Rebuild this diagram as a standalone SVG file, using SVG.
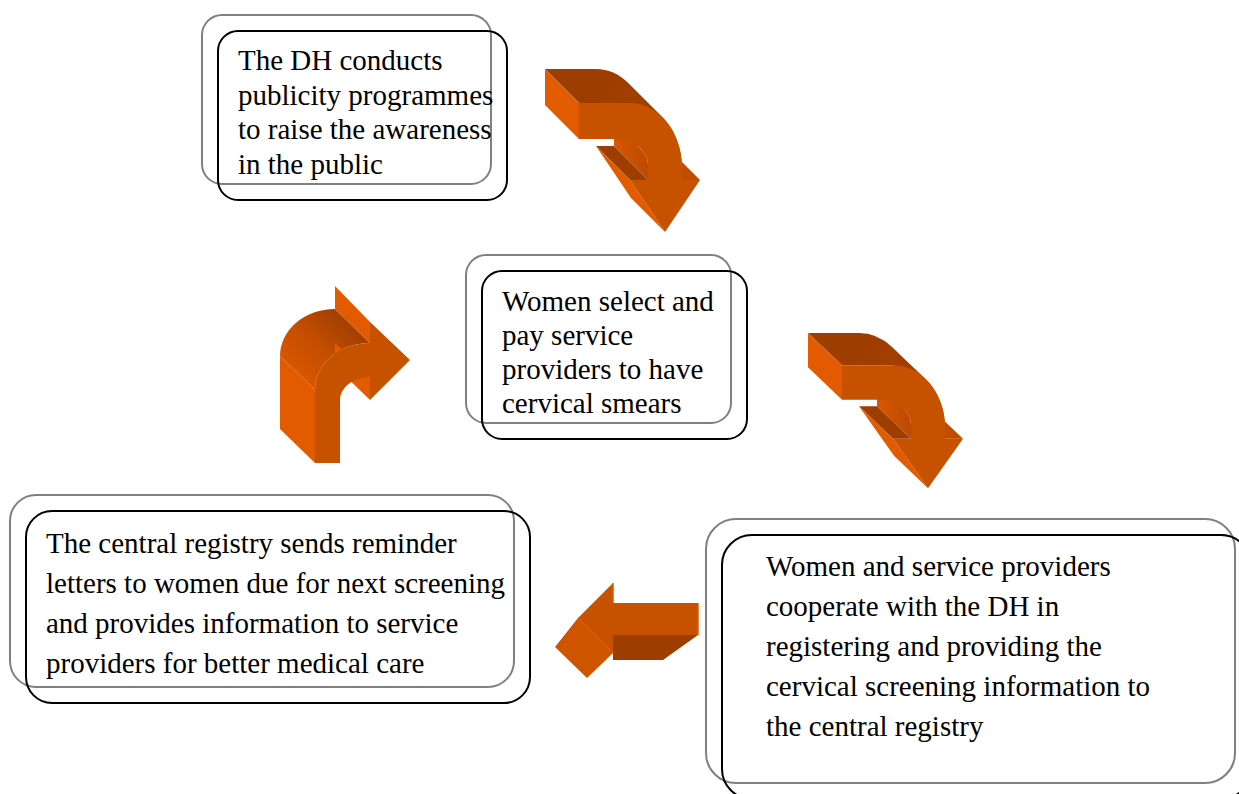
<svg xmlns="http://www.w3.org/2000/svg" width="1239" height="794" viewBox="0 0 1239 794">
<defs>
<style>
.g{fill:none;stroke:#808080;stroke-width:2}
.b{fill:none;stroke:#000;stroke-width:2}
.t{font-family:"Liberation Serif","Times New Roman",serif;font-size:29px;fill:#000}
.L{fill:#E25B00}
.M{fill:#C65200}
.D{fill:#9E3D00}
.P{fill:#CE5400}
</style>
<linearGradient id="topG" gradientUnits="userSpaceOnUse" x1="600" y1="80" x2="690" y2="160">
<stop offset="0" stop-color="#9E3D00"/>
<stop offset="0.7" stop-color="#A64000"/>
<stop offset="1" stop-color="#C04C00"/>
</linearGradient>
<linearGradient id="innerG" gradientUnits="userSpaceOnUse" x1="614" y1="150" x2="648" y2="150">
<stop offset="0" stop-color="#D85800"/>
<stop offset="1" stop-color="#BC4A00"/>
</linearGradient>
<linearGradient id="curveG" gradientUnits="userSpaceOnUse" x1="290" y1="385" x2="355" y2="315">
<stop offset="0" stop-color="#E05A00"/>
<stop offset="0.5" stop-color="#C44E00"/>
<stop offset="1" stop-color="#9A3B00"/>
</linearGradient>
</defs>
<rect width="1239" height="794" fill="#fff"/>

<g id="connectors">
  <g id="arrow1">
    <path fill="url(#topG)" d="M545,69 L596,69 A52,65 0 0 1 628.5,83.3 L662.5,117.3 A52,65 0 0 1 682,168 L682,162 L700,180 L682,180 L630,103 L579,103 Z"/>
    <path class="L" d="M545,69 L579,103 L579,139 L545,105 Z"/>
    <path fill="url(#innerG)" d="M606.9,114.9 A33,26 0 0 1 614,131 L614,146 L648,180 L648,165 A33,26 0 0 0 640.9,148.9 Z"/>
    <path class="D" d="M596,146 L614,146 L648,180 L630,180 Z"/>
    <path class="L" d="M596,146 L631,198 L665,232 L630,180 Z"/>
    <path class="M" d="M579,103 L630,103 A52,65 0 0 1 682,168 L682,180 L700,180 L665,232 L630,180 L648,180 L648,165 A33,26 0 0 0 615,139 L579,139 Z"/>
  </g>
  <g id="arrow3" transform="translate(808,333) scale(1,0.952) translate(-545,-69)">
    <path fill="url(#topG)" d="M545,69 L596,69 A52,65 0 0 1 628.5,83.3 L662.5,117.3 A52,65 0 0 1 682,168 L682,162 L700,180 L682,180 L630,103 L579,103 Z"/>
    <path class="L" d="M545,69 L579,103 L579,139 L545,105 Z"/>
    <path fill="url(#innerG)" d="M606.9,114.9 A33,26 0 0 1 614,131 L614,146 L648,180 L648,165 A33,26 0 0 0 640.9,148.9 Z"/>
    <path class="D" d="M596,146 L614,146 L648,180 L630,180 Z"/>
    <path class="L" d="M596,146 L631,198 L665,232 L630,180 Z"/>
    <path class="M" d="M579,103 L630,103 A52,65 0 0 1 682,168 L682,180 L700,180 L665,232 L630,180 L648,180 L648,165 A33,26 0 0 0 615,139 L579,139 Z"/>
  </g>
  <g id="arrow2">
    <path class="L" d="M280,356 L280,429 L315,463 L315,390 Z"/>
    <path fill="url(#curveG)" d="M280,356 A55,47 0 0 1 335,309 L370,343 A55,47 0 0 0 315,390 Z"/>
    <path class="L" d="M335,286 L370,322 L370,343 L335,309 Z"/>
    <path class="L" d="M335,343 L370,377 L370,400 L335,366 Z"/>
    <path class="M" d="M315,463 L315,390 A55,47 0 0 1 370,343 L370,322 L410,360 L370,400 L370,377 A30,23 0 0 0 340,400 L340,463 Z"/>
  </g>
  <g id="arrow4">
    <path class="D" d="M613,635 L698,635 L663,660 L613,660 Z"/>
    <path class="P" d="M578,618 L613,653 L587,678 L555,647 Z"/>
    <path class="M" d="M613,583 L613,603 L698,603 L698,635 L613,635 L613,653 L578,618 Z"/>
    <path d="M613,583 L613,603 M578,618 L613,653 M698,603 L698,635" fill="none" stroke="#E05A00" stroke-width="1.5"/>
  </g>
</g>

<g id="node1">
  <rect class="g" x="202" y="15" width="289" height="169" rx="20"/>
  <rect class="b" x="218" y="31" width="289" height="169" rx="20"/>
  <text class="t" x="238" y="70">The DH conducts</text>
  <text class="t" x="238" y="104.5">publicity programmes</text>
  <text class="t" x="238" y="139">to raise the awareness</text>
  <text class="t" x="238" y="173.5">in the public</text>
</g>

<g id="node2">
  <rect class="g" x="466" y="255" width="265" height="168" rx="20"/>
  <rect class="b" x="482" y="271" width="265" height="168" rx="20"/>
  <text class="t" x="502" y="311">Women select and</text>
  <text class="t" x="502" y="345">pay service</text>
  <text class="t" x="502" y="379">providers to have</text>
  <text class="t" x="502" y="413">cervical smears</text>
</g>

<g id="node3">
  <rect class="g" x="706" y="519" width="529" height="264" rx="30"/>
  <rect class="b" x="722" y="535" width="529" height="264" rx="30"/>
  <text class="t" x="766" y="576">Women and service providers</text>
  <text class="t" x="766" y="616">cooperate with the DH in</text>
  <text class="t" x="766" y="656">registering and providing the</text>
  <text class="t" x="766" y="696">cervical screening information to</text>
  <text class="t" x="766" y="736">the central registry</text>
</g>

<g id="node4">
  <rect class="g" x="10" y="495" width="504" height="192" rx="26"/>
  <rect class="b" x="26" y="511" width="504" height="192" rx="26"/>
  <text class="t" x="46" y="553">The central registry sends reminder</text>
  <text class="t" x="46" y="593">letters to women due for next screening</text>
  <text class="t" x="46" y="633">and provides information to service</text>
  <text class="t" x="46" y="673">providers for better medical care</text>
</g>
</svg>
